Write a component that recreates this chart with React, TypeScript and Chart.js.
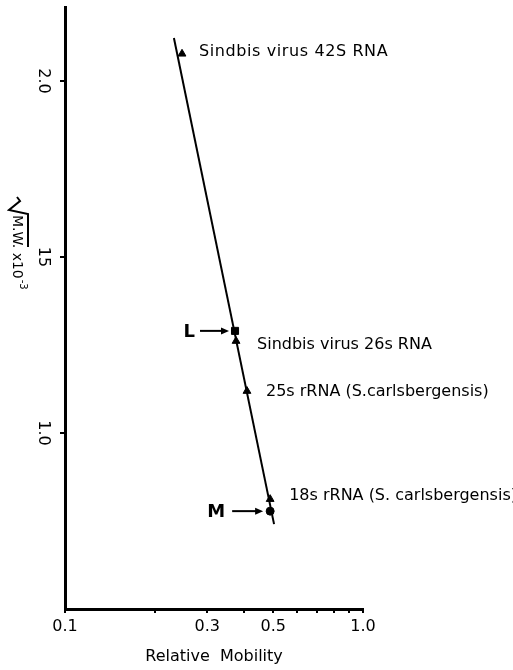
import React, { useEffect, useRef } from "react";
import { Chart, registerables } from "chart.js";

Chart.register(...registerables);

// ---- data ----
const markerNames = [
  "Sindbis virus 42S RNA",
  "Sindbis virus 26s RNA",
  "25s rRNA (S.carlsbergensis)",
  "18s rRNA (S. carlsbergensis)",
];
const markerMobility = [0.247, 0.375, 0.408, 0.488];
const markerSqrtMW = [2.077, 1.261, 1.119, 0.812];

const unknownNames = ["L", "M"];
const unknownMobility = [0.372, 0.488];
const unknownSqrtMW = [1.29, 0.778];

const fitMobility = [0.232, 0.503];
const fitSqrtMW = [2.122, 0.741];

const xTickValues = [0.1, 0.2, 0.3, 0.4, 0.5, 0.6, 0.7, 0.8, 0.9, 1.0];
const xLabelledValues = [0.1, 0.3, 0.5, 1.0];
const xLabelTexts = ["0.1", "0.3", "0.5", "1.0"];

const yTickValues = [1.0, 1.5, 2.0];
const yTickTexts = ["1.0", "15", "2.0"];

const xTitle = "Relative  Mobility";
const yTitleMain = "M.W. x10";
const yTitleSup = "-3";

// ---- label placement (pixel offsets from the data point) ----
const markerLabelOffsets = [
  [17, -2],
  [21, 4],
  [19, 1],
  [19, -3],
];
const markerLabelSpacing = ["0.6px", "0px", "0px", "0px"];
const unknownLabelOffsets = [
  { textRight: -40, arrowFrom: -35, arrowTo: -6 },
  { textRight: -45, arrowFrom: -38, arrowTo: -7 },
];

const FONT = "'DejaVu Sans', sans-serif";

const annotationPlugin = {
  id: "annotations",
  afterDatasetsDraw(chart: any) {
    const ctx = chart.ctx;
    const xs = chart.scales.x;
    const ys = chart.scales.y;
    ctx.save();
    ctx.fillStyle = "#000";
    ctx.strokeStyle = "#000";
    // marker labels
    ctx.font = `16px ${FONT}`;
    ctx.textAlign = "left";
    ctx.textBaseline = "middle";
    markerNames.forEach((name, i) => {
      const px = xs.getPixelForValue(markerMobility[i]);
      const py = ys.getPixelForValue(markerSqrtMW[i]);
      (ctx as any).letterSpacing = markerLabelSpacing[i];
      ctx.fillText(name, px + markerLabelOffsets[i][0], py + markerLabelOffsets[i][1]);
    });
    (ctx as any).letterSpacing = "0px";
    // unknowns with arrows
    unknownNames.forEach((name, i) => {
      const px = xs.getPixelForValue(unknownMobility[i]);
      const py = ys.getPixelForValue(unknownSqrtMW[i]);
      const o = unknownLabelOffsets[i];
      ctx.font = `bold 18px ${FONT}`;
      ctx.textAlign = "right";
      ctx.textBaseline = "middle";
      ctx.fillText(name, px + o.textRight, py + 1);
      ctx.lineWidth = 2;
      ctx.beginPath();
      ctx.moveTo(px + o.arrowFrom, py);
      ctx.lineTo(px + o.arrowTo - 6, py);
      ctx.stroke();
      ctx.beginPath();
      ctx.moveTo(px + o.arrowTo, py);
      ctx.lineTo(px + o.arrowTo - 8, py - 3.5);
      ctx.lineTo(px + o.arrowTo - 8, py + 3.5);
      ctx.closePath();
      ctx.fill();
    });
    ctx.restore();
  },
  afterDraw(chart: any) {
    const ctx = chart.ctx;
    const ys = chart.scales.y;
    ctx.save();
    ctx.fillStyle = "#000";
    ctx.strokeStyle = "#000";
    // y tick labels, rotated clockwise
    ctx.font = `16px ${FONT}`;
    ctx.textAlign = "center";
    ctx.textBaseline = "middle";
    yTickValues.forEach((v, i) => {
      const py = ys.getPixelForValue(v);
      ctx.save();
      ctx.translate(43, py);
      ctx.rotate(Math.PI / 2);
      ctx.fillText(yTickTexts[i], 0, 0);
      ctx.restore();
    });
    // y title with radical sign
    ctx.save();
    ctx.translate(20, 195);
    ctx.rotate(Math.PI / 2);
    ctx.lineWidth = 2;
    ctx.beginPath();
    ctx.moveTo(2, 3);
    ctx.lineTo(6, 0);
    ctx.lineTo(15, 11);
    ctx.lineTo(19, -8);
    ctx.lineTo(52, -8);
    ctx.stroke();
    ctx.font = `14px ${FONT}`;
    ctx.textAlign = "left";
    ctx.textBaseline = "alphabetic";
    ctx.fillText(yTitleMain, 20, 7);
    const w = ctx.measureText(yTitleMain).width;
    ctx.font = `10px ${FONT}`;
    ctx.fillText(yTitleSup, 20 + w + 1, 0);
    ctx.restore();
    ctx.restore();
  },
};

export default function App() {
  const ref = useRef<HTMLCanvasElement | null>(null);
  useEffect(() => {
    if (!ref.current) return;
    const chart = new Chart(ref.current, {
      type: "scatter",
      data: {
        datasets: [
          {
            type: "line",
            data: fitMobility.map((x, i) => ({ x, y: fitSqrtMW[i] })),
            borderColor: "#000",
            borderWidth: 2,
            pointRadius: 0,
            fill: false,
          } as any,
          {
            data: markerMobility.map((x, i) => ({ x, y: markerSqrtMW[i] })),
            pointStyle: "triangle",
            pointRadius: 4.5,
            backgroundColor: "#000",
            borderColor: "#000",
          },
          {
            data: [{ x: unknownMobility[0], y: unknownSqrtMW[0] }],
            pointStyle: "rect",
            pointRadius: 5,
            backgroundColor: "#000",
            borderColor: "#000",
          },
          {
            data: [{ x: unknownMobility[1], y: unknownSqrtMW[1] }],
            pointStyle: "circle",
            pointRadius: 4,
            backgroundColor: "#000",
            borderColor: "#000",
          },
        ],
      },
      options: {
        animation: false,
        responsive: false,
        events: [],
        layout: { padding: { left: 0, top: 7, right: 150, bottom: 0 } },
        plugins: {
          legend: { display: false },
          tooltip: { enabled: false },
        },
        scales: {
          x: {
            type: "logarithmic",
            min: 0.1,
            max: 1.0,
            afterBuildTicks: (s: any) => {
              s.ticks = xTickValues.map((v) => ({ value: v }));
            },
            afterFit: (s: any) => {
              s.height = 61;
            },
            ticks: {
              autoSkip: false,
              maxRotation: 0,
              minRotation: 0,
              padding: 4,
              color: "#000",
              font: { family: FONT, size: 16 },
              callback: (v: any) => {
                const idx = xLabelledValues.findIndex((t) => Math.abs(t - Number(v)) < 1e-6);
                return idx >= 0 ? xLabelTexts[idx] : "";
              },
            },
            grid: {
              display: true,
              drawOnChartArea: false,
              drawTicks: true,
              tickLength: 4,
              color: "#000",
              lineWidth: 2,
            },
            border: { display: true, color: "#000", width: 3 },
            title: {
              display: true,
              text: xTitle,
              color: "#000",
              font: { family: FONT, size: 16 },
              padding: { top: 0, bottom: 4 },
            },
          },
          y: {
            type: "linear",
            min: 0.5,
            max: 2.21,
            afterBuildTicks: (s: any) => {
              s.ticks = yTickValues.map((v) => ({ value: v }));
            },
            afterFit: (s: any) => {
              s.width = 65;
            },
            ticks: { display: false },
            grid: {
              display: true,
              drawOnChartArea: false,
              drawTicks: true,
              tickLength: 5,
              color: "#000",
              lineWidth: 2,
            },
            border: { display: true, color: "#000", width: 3 },
          },
        },
      },
      plugins: [annotationPlugin],
    } as any);
    return () => chart.destroy();
  }, []);
  return (
    <div style={{ position: "absolute", left: 0, top: 0, width: 513, height: 670, background: "#fff" }}>
      <canvas ref={ref} width={513} height={670} style={{ width: 513, height: 670, display: "block" }} />
    </div>
  );
}
